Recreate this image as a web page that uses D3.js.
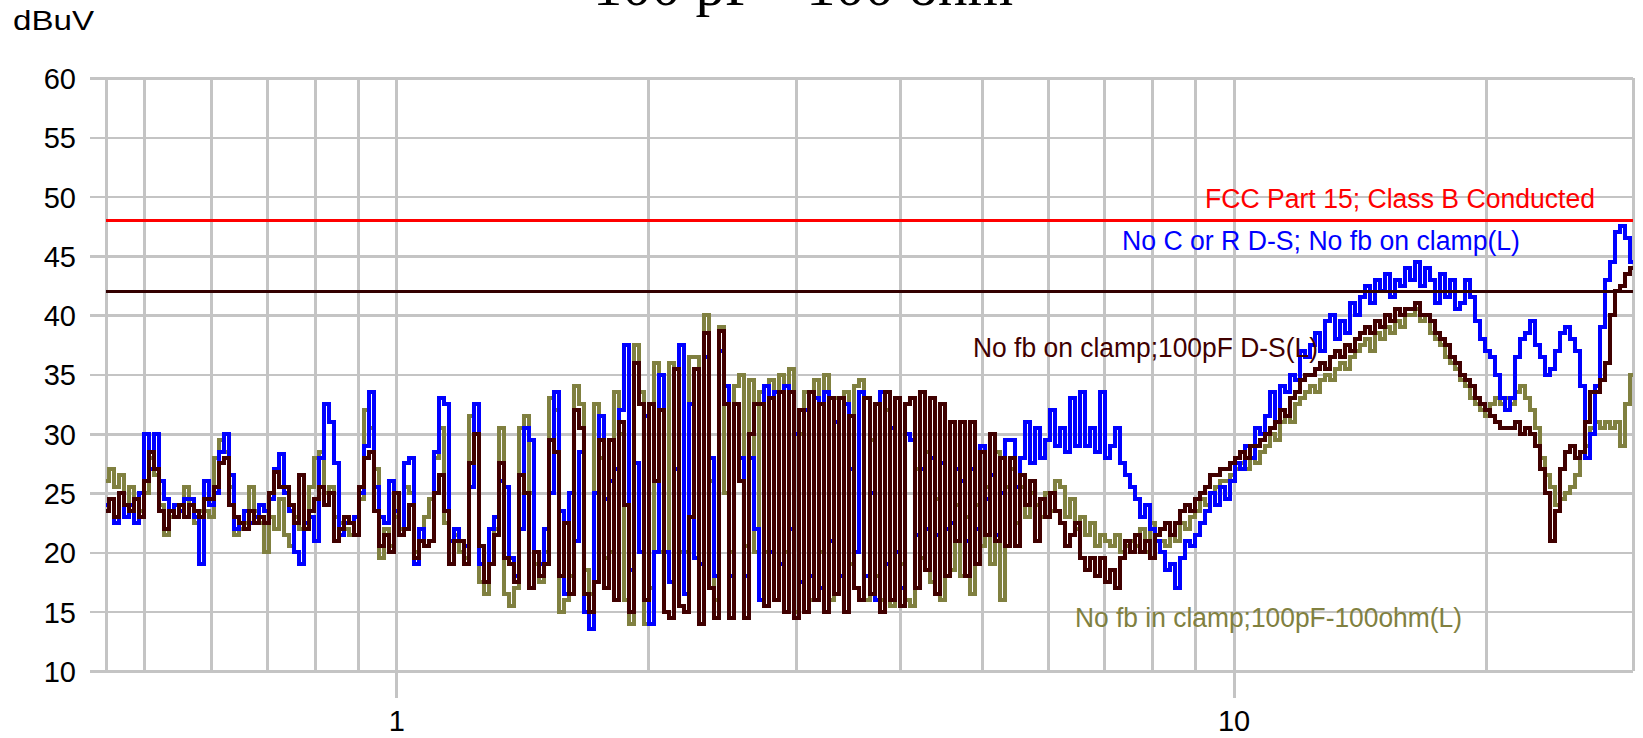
<!DOCTYPE html>
<html>
<head>
<meta charset="utf-8">
<script src="https://cdn.jsdelivr.net/npm/d3@7"></script>
<style>
  html, body { margin: 0; padding: 0; background: #ffffff; overflow: hidden; }
  svg { display: block; }
</style>
</head>
<body>
<svg id="chart" width="1643" height="738"></svg>
<script>
// Conducted emissions sweep: log-spaced receiver points, 0.45 MHz .. 30 MHz
const fStartMHz = 0.45;
const fStopMHz = 30;
const sweepPoints = 306;

// Axis ticks
const yTicks = [10, 15, 20, 25, 30, 35, 40, 45, 50, 55, 60];
const xGridTicks = [0.45, 0.5, 0.6, 0.7, 0.8, 0.9, 1, 2, 3, 4, 5, 6, 7, 8, 9, 10, 20, 30];
const xLabelTicks = [1, 10];

// Limit lines (dBuV)
const fccLimitDb = 48;
const marginLineDb = 42;

// Trace names
const traceNames = [
  "No C or R D-S; No fb on clamp(L)",
  "No fb on clamp;100pF D-S(L)",
  "No fb in clamp;100pF-100ohm(L)"
];
const fccLabel = "FCC Part 15; Class B Conducted";

// Measured levels (dBuV), one value per sweep point
const noCnoRTrace = [
  24, 24.5, 22.5, 25, 23, 24, 22.5, 25, 30, 27, 30,
  26, 24.5, 23.5, 24, 23.5, 24.5, 24.5, 23, 19, 26,
  24, 25, 28.5, 30, 26.5, 22, 22.5, 23.5, 22.5, 23,
  24, 23.5, 24.5, 27, 28.3, 25, 23.5, 20, 19, 22.5,
  23, 21, 28, 32.5, 31, 27.5, 21.5, 22.5, 22.5, 23,
  25, 29, 33.5, 25.5, 23, 22.5, 26, 23.5, 21.5, 27.5,
  28, 19, 22, 20.5, 21, 28.5, 33, 32.5, 21, 22,
  21, 20.5, 25.5, 32.5, 19, 17.5, 22, 23, 26, 25.5,
  19.5, 18, 22, 30.5, 29.5, 20, 19, 22, 25, 33.5,
  23.5, 16.5, 25, 21, 28.5, 15, 13.5, 25, 31.5, 24.5,
  26, 27, 32, 37.5, 18.5, 27.5, 20, 31.5, 14, 20,
  35, 20, 17.5, 27, 37.5, 16.5, 32.5, 19.5, 19, 36.5,
  28, 18, 37, 34, 18, 32.5, 28, 18, 28, 22,
  16, 34, 20, 33.5, 19, 34, 22, 30, 17.5, 32,
  18, 33, 17, 33.5, 21, 31, 18, 32.5, 27, 20,
  33.5, 18, 25, 16, 33.5, 19, 30.5, 20, 17, 30,
  29.5, 21.5, 27, 22, 28, 21.5, 27.5, 22, 22.5, 27,
  26, 21, 27, 22, 29, 24.5, 26.5, 21.5, 25, 29.5,
  29.5, 25.5, 28, 31, 27.5, 30.5, 28, 29.5, 32, 29,
  30.5, 28.5, 33, 29, 33.5, 29, 30.5, 28.5, 33.5, 28,
  29, 30.5, 27.5, 26.5, 25.5, 24.5, 23, 24, 22, 21,
  20, 18.5, 19, 17, 19.5, 21, 20.5, 21.5, 22.5, 23.5,
  25, 24, 25.5, 24.5, 26, 27.5, 27, 29, 28, 30.5,
  30, 31.5, 33.5, 31, 34, 33.5, 35, 34.5, 37, 36.5,
  37.5, 38.5, 37, 39.5, 40, 38, 39.5, 38.5, 41, 40,
  41.5, 42.5, 41, 43, 42, 43.5, 41.5, 43, 42.5, 44,
  43, 44.5, 42.5, 44, 43, 41, 43.5, 41.5, 43, 40.5,
  41, 43, 41.5, 39.5, 38, 37, 36.5, 35, 33, 32,
  33, 36.5, 38, 38.5, 39.5, 37.5, 36.5, 35, 35.5, 37,
  38.5, 39, 38, 37, 34, 28, 30, 34, 39, 43,
  44.5, 47, 47.5, 46.5, 44.5
];

const cap100pFTrace = [
  23.5, 24.5, 23, 25, 24, 23.5, 24.5, 23, 26, 28.5, 27,
  23.5, 22, 23.5, 23, 24, 23, 24, 23.5, 23, 24.5,
  24.5, 25.5, 27.5, 28, 24, 23, 22.5, 22, 23.5, 22.5,
  23, 22.5, 25, 26.8, 25.5, 25.5, 24, 22.5, 26.5, 22,
  23.5, 24.5, 25.5, 24, 25, 21, 22, 23, 22.5, 21.5,
  25.5, 28, 28.5, 23.5, 20.5, 21.5, 20, 25, 21.5, 22,
  24, 19.5, 21, 20.5, 21, 25, 26.5, 23.5, 19, 21,
  21, 19, 27.5, 30, 20.5, 17.5, 19, 21.5, 27.5, 19.5,
  19, 17.5, 26.5, 25, 17, 20, 18, 19, 29.5, 28.5,
  18, 22.5, 16.5, 32, 30.5, 16.5, 15, 17.5, 29.5, 17,
  29.5, 16, 31, 24, 15, 36, 32.5, 16, 32.5, 26,
  32, 15, 14.5, 35.5, 15.5, 15, 23, 35.5, 14, 38.5,
  17, 14.5, 38.7, 32.5, 14.5, 32.5, 26, 14.5, 30, 32.5,
  32.5, 15.5, 33, 16, 33.5, 15, 33.5, 14.5, 32, 15,
  33.5, 16, 32.5, 15, 33, 16.5, 33, 15, 31.5, 17,
  16, 33, 16.5, 32.5, 15, 33.5, 16, 33, 15.5, 32.5,
  33, 17, 33.5, 18.5, 33, 16.5, 32.5, 18, 31, 21,
  31, 18, 31, 19, 28.5, 21.5, 30, 21, 28, 20.5,
  28, 20.5, 26.5, 24, 26, 21, 24.5, 23, 25, 23.5,
  22.5, 20.5, 21.5, 22.5, 19.5, 18.5, 19.5, 18, 19.5, 17.5,
  18.5, 17, 19.5, 21, 20, 21.5, 20, 21, 19.5, 21.5,
  22, 22.5, 21.5, 22.5, 23.5, 24, 23.5, 24.5, 25, 25.5,
  26.5, 26.5, 27, 27, 27.5, 28, 28.5, 28, 29, 29,
  29.5, 30, 30.5, 31, 32, 31.5, 33, 33.5, 34.5, 35,
  35, 35.5, 36, 35.5, 36.5, 37, 36.5, 37.5, 37, 38,
  38.5, 39, 38.5, 39.5, 39, 40, 39.5, 40.5, 40, 40.5,
  40.5, 41, 40, 40, 39.5, 38.5, 38, 37.5, 36.5, 36,
  35, 34.5, 34, 33, 32.5, 32, 31.5, 31, 30.5, 30.5,
  30.5, 31, 30, 30.5, 30, 29, 27, 25, 21, 23.5,
  27, 28.5, 29, 28, 28.5, 31, 33.5, 33.5, 34.5, 36,
  40, 42, 42.5, 43.5, 44
];

const rc100Trace = [
  26, 27, 25.5, 26.5, 24, 25.5, 24.5, 23.5, 25, 28, 26.5,
  24, 21.5, 23, 24, 23.5, 25.5, 24, 22.5, 23.5, 23.5,
  23, 28, 29.5, 28.5, 25.5, 21.5, 22, 22.5, 25.5, 23.5,
  22.5, 20, 23, 22, 24.5, 21.5, 20.5, 23, 22, 22.5,
  25.5, 28, 28.5, 25, 25.5, 23, 22.5, 22, 21.5, 21.5,
  24.5, 32, 30.5, 27, 19.5, 22, 20.5, 23, 22, 25.5,
  25, 20, 22, 23, 24.5, 28, 30.5, 22.5, 19, 21.5,
  20, 19.5, 31.5, 32.5, 17.5, 16.5, 19, 22, 30.5, 16.5,
  15.5, 17, 30.5, 31.5, 25, 19, 17.5, 20, 33, 32,
  15, 16, 18, 34, 32.5, 18.5, 16.5, 32.5, 28, 19.5,
  20, 33.5, 30, 16, 14, 37.5, 33.5, 14, 17, 36,
  20, 20, 36, 35.5, 20, 20, 36.5, 36.5, 19, 40,
  26, 16, 39, 25, 20, 34, 35, 20.5, 34.5, 20,
  33.5, 20, 34.5, 16, 35, 20, 35.5, 15, 30, 33.5,
  16, 34.5, 20, 35, 16, 33, 18, 33.5, 19, 34,
  34.5, 16, 29.5, 18, 16, 32, 15.5, 33, 19, 16,
  15.5, 27, 19.5, 28.5, 17.5, 24.5, 16, 22, 18.5, 24,
  18, 23, 16.5, 24, 20.5, 25.5, 19, 28.5, 16, 25.5,
  27, 22.5, 25.5, 23, 25, 24, 23, 25, 23.5, 26,
  25.5, 23, 24.5, 22, 23, 21.5, 22.5, 20.5, 21.5, 21,
  20.5, 21.5, 20, 20.5, 21, 20.5, 22, 20, 22.5, 21,
  21, 20.5, 21.5, 21, 22.5, 22, 23, 23.5, 24.5, 24,
  25, 25.5, 26, 26, 26.5, 27, 27.5, 27, 28, 27.5,
  28.5, 29, 30, 29.5, 31, 31.5, 31, 32.5, 33, 33.5,
  34, 33.5, 34.5, 35, 34.5, 35.5, 36, 35.5, 36.5, 37,
  37.5, 38, 37, 38.5, 38, 39, 38.5, 39.5, 39, 40,
  40, 40.5, 39.5, 40, 38.5, 38, 37.5, 36.5, 36, 35.5,
  34.5, 34, 33, 32.5, 32, 31.5, 32.5, 33, 32.5, 33,
  32.5, 33.5, 34, 33, 32, 30.5, 28, 26.5, 25.5, 24,
  24.5, 25, 25.5, 26.5, 28.5, 29, 30.5, 31, 30.5, 31,
  30.5, 31, 29, 32.5, 35
];

// Receiver frequency points of the log sweep
const sweepMHz = d3.range(sweepPoints).map(i =>
  fStartMHz * Math.pow(fStopMHz / fStartMHz, i / (sweepPoints - 1)));

// ---- layout ----
const plot = { left: 106, right: 1633, top: 78, bottom: 671 };
const gridColor = "#c4c4c4";
const sansFont = "'Liberation Sans', Arial, Helvetica, sans-serif";

const svg = d3.select("#chart");
svg.append("rect").attr("width", 1643).attr("height", 738).attr("fill", "#ffffff");

const x = d3.scaleLog().domain([fStartMHz, fStopMHz]).range([plot.left, plot.right]);
const y = d3.scaleLinear().domain([10, 60]).range([plot.bottom, plot.top]);

// Horizontal grid + y labels
const yAxis = d3.axisLeft(y)
  .tickValues(yTicks)
  .tickSizeInner(-(plot.right - 90))
  .tickSizeOuter(0)
  .tickPadding(14)
  .tickFormat(d3.format("d"));
const gy = svg.append("g").attr("transform", `translate(90,0)`).call(yAxis);
gy.select(".domain").remove();
gy.selectAll(".tick line").attr("stroke", gridColor).attr("stroke-width", 2.5)
  .attr("shape-rendering", "crispEdges");
gy.selectAll(".tick text")
  .attr("font-family", sansFont).attr("font-size", 29).attr("fill", "#000")
  .attr("dy", "0.36em");

// Vertical grid
const xGrid = d3.axisBottom(x)
  .tickValues(xGridTicks)
  .tickSizeInner(-(plot.bottom - plot.top))
  .tickSizeOuter(0)
  .tickFormat("");
const gxg = svg.append("g").attr("transform", `translate(0,${plot.bottom})`).call(xGrid);
gxg.select(".domain").remove();
gxg.selectAll(".tick line").attr("stroke", gridColor).attr("stroke-width", 3)
  .attr("shape-rendering", "crispEdges");

// Decade ticks and labels
const xAxis = d3.axisBottom(x)
  .tickValues(xLabelTicks)
  .tickSizeInner(27)
  .tickSizeOuter(0)
  .tickPadding(12)
  .tickFormat(d3.format("d"));
const gx = svg.append("g").attr("transform", `translate(0,${plot.bottom})`).call(xAxis);
gx.select(".domain").remove();
gx.selectAll(".tick line").attr("stroke", gridColor).attr("stroke-width", 3)
  .attr("shape-rendering", "crispEdges");
gx.selectAll(".tick text")
  .attr("font-family", sansFont).attr("font-size", 29).attr("fill", "#000");

// Traces
const traces = [
  { values: rc100Trace, color: "#808040" },
  { values: noCnoRTrace, color: "#0000ff" },
  { values: cap100pFTrace, color: "#400000" }
];
const line = d3.line()
  .x((d, i) => x(sweepMHz[i]))
  .y(d => y(d))
  .curve(d3.curveStep);

svg.append("g").selectAll("path")
  .data(traces)
  .join("path")
  .attr("d", d => line(d.values))
  .attr("fill", "none")
  .attr("stroke", d => d.color)
  .attr("stroke-width", 4)
  .attr("stroke-linejoin", "miter")
  .attr("shape-rendering", "crispEdges");

// Limit lines
svg.append("line")
  .attr("x1", x(fStartMHz)).attr("x2", x(fStopMHz))
  .attr("y1", y(fccLimitDb)).attr("y2", y(fccLimitDb))
  .attr("stroke", "#ff0000").attr("stroke-width", 2.5)
  .attr("shape-rendering", "crispEdges");
svg.append("line")
  .attr("x1", x(fStartMHz)).attr("x2", x(fStopMHz))
  .attr("y1", y(marginLineDb)).attr("y2", y(marginLineDb))
  .attr("stroke", "#330000").attr("stroke-width", 3)
  .attr("shape-rendering", "crispEdges");

// Trace and limit labels
const labels = [
  { text: fccLabel, x: 1205, y: 208, len: 390, color: "#ff0000" },
  { text: traceNames[0], x: 1122, y: 250, len: 398, color: "#0000ff" },
  { text: traceNames[1], x: 973, y: 357, len: 345, color: "#400000" },
  { text: traceNames[2], x: 1075, y: 627, len: 387, color: "#808040" }
];
svg.append("g").selectAll("text")
  .data(labels)
  .join("text")
  .attr("x", d => d.x).attr("y", d => d.y)
  .attr("textLength", d => d.len)
  .attr("lengthAdjust", "spacingAndGlyphs")
  .attr("font-family", sansFont).attr("font-size", 27)
  .attr("fill", d => d.color)
  .text(d => d.text);

// Unit label
svg.append("text")
  .attr("x", 13).attr("y", 30)
  .attr("textLength", 81).attr("lengthAdjust", "spacingAndGlyphs")
  .attr("font-family", sansFont).attr("font-size", 27).attr("fill", "#000")
  .text("dBuV");

// Title
svg.append("text")
  .attr("x", 803).attr("y", 5)
  .attr("text-anchor", "middle")
  .attr("textLength", 420).attr("lengthAdjust", "spacingAndGlyphs")
  .attr("font-family", "'Liberation Serif', 'Times New Roman', serif")
  .attr("font-size", 58).attr("fill", "#000")
  .text("100 pF - 100 ohm");
</script>
</body>
</html>
